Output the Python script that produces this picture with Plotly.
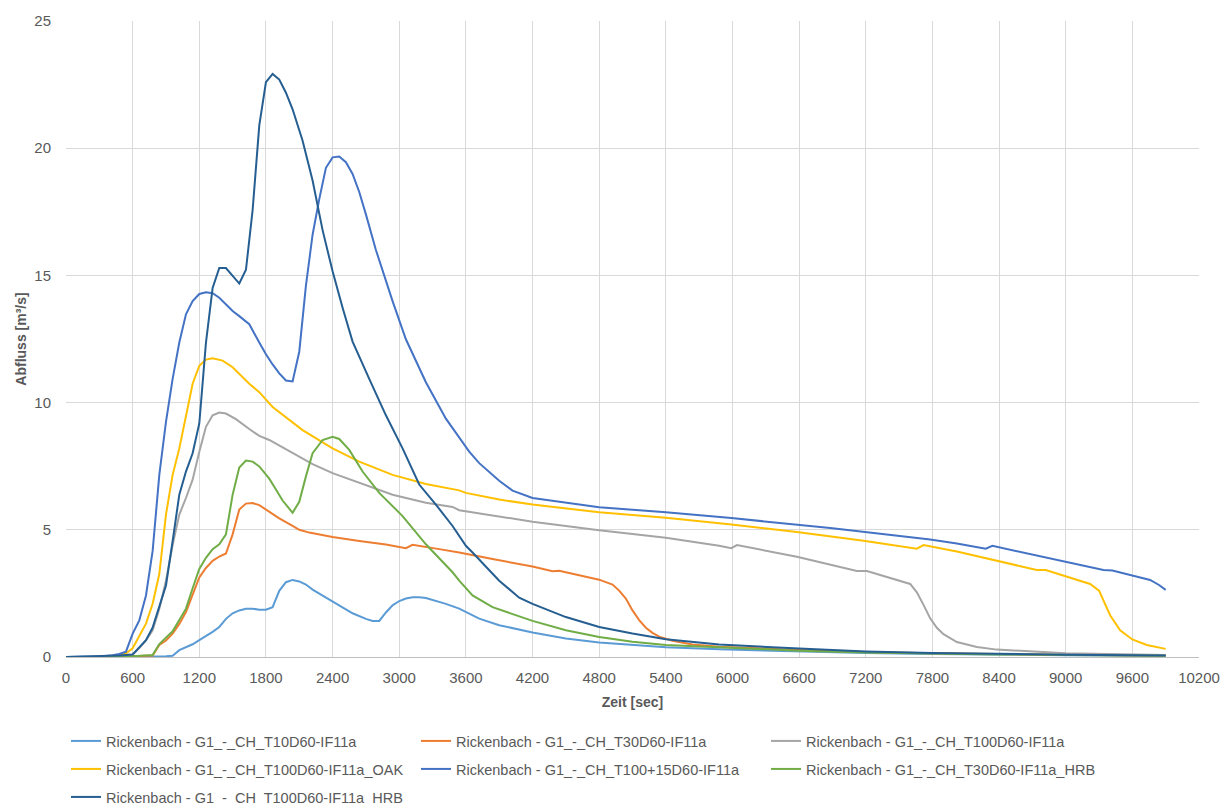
import plotly.graph_objects as go

# Abflussganglinien Rickenbach, Zeit in Sekunden, Abfluss in m³/s

names = [
    "Rickenbach - G1_-_CH_T10D60-IF11a",
    "Rickenbach - G1_-_CH_T30D60-IF11a",
    "Rickenbach - G1_-_CH_T100D60-IF11a",
    "Rickenbach - G1_-_CH_T100D60-IF11a_OAK",
    "Rickenbach - G1_-_CH_T100+15D60-IF11a",
    "Rickenbach - G1_-_CH_T30D60-IF11a_HRB",
    "Rickenbach - G1  -  CH  T100D60-IF11a  HRB",
]
colors = ["#5B9BD5", "#ED7D31", "#A5A5A5", "#FFC000", "#4472C4", "#70AD47", "#255E91"]

t_t10 = [0, 300, 600, 900, 960, 1020, 1080, 1140, 1200, 1260, 1320, 1380, 1440, 1500,
         1560, 1620, 1680, 1740, 1800, 1860, 1920, 1980, 2040, 2100, 2160, 2220, 2340,
         2460, 2580, 2700, 2760, 2820, 2880, 2940, 3000, 3060, 3120, 3180, 3240, 3420,
         3540, 3720, 3900, 4200, 4500, 4800, 5100, 5400, 5880, 6600, 7200, 7800, 8400,
         9000, 9900]
q_t10 = [0, 0, 0.02, 0.03, 0.05, 0.27, 0.38, 0.5, 0.66, 0.82, 0.99, 1.18, 1.5, 1.72,
         1.83, 1.9, 1.9, 1.86, 1.86, 1.96, 2.6, 2.94, 3.03, 2.97, 2.85, 2.65, 2.35,
         2.05, 1.72, 1.5, 1.42, 1.42, 1.75, 2.03, 2.2, 2.3, 2.35, 2.35, 2.32, 2.09,
         1.9, 1.51, 1.25, 0.96, 0.73, 0.57, 0.47, 0.38, 0.3, 0.22, 0.16, 0.12, 0.09,
         0.07, 0.05]

t_t30 = [0, 300, 600, 780, 840, 900, 960, 1020, 1080, 1140, 1200, 1260, 1320, 1380,
         1440, 1500, 1560, 1620, 1680, 1740, 1800, 1920, 2040, 2100, 2190, 2400, 2640,
         2880, 3060, 3120, 3360, 3540, 3840, 4200, 4380, 4440, 4800, 4920, 4980, 5040,
         5100, 5160, 5220, 5280, 5340, 5460, 5640, 5880, 6600, 7200, 7800, 8400, 9000,
         9900]
q_t30 = [0, 0, 0.03, 0.06, 0.47, 0.65, 0.92, 1.3, 1.77, 2.45, 3.13, 3.5, 3.78, 3.95,
         4.07, 4.82, 5.8, 6.03, 6.05, 5.97, 5.8, 5.45, 5.15, 5.0, 4.89, 4.72, 4.56,
         4.42, 4.28, 4.41, 4.24, 4.11, 3.85, 3.56, 3.37, 3.39, 3.04, 2.85, 2.61, 2.3,
         1.83, 1.45, 1.15, 0.95, 0.8, 0.64, 0.49, 0.4, 0.28, 0.2, 0.15, 0.11, 0.09,
         0.06]

t_t100 = [0, 300, 600, 660, 720, 780, 840, 900, 960, 1020, 1080, 1140, 1200, 1260,
          1320, 1380, 1440, 1530, 1650, 1740, 1830, 2040, 2220, 2400, 2640, 2940, 3240,
          3480, 3540, 3630, 4200, 4800, 5400, 5880, 5990, 6040, 6580, 7120, 7210, 7600,
          7660, 7720, 7780, 7840, 7900, 8020, 8200, 8380, 9000, 9900]
q_t100 = [0, 0, 0.1, 0.35, 0.65, 1.05, 1.9, 3.0, 4.4, 5.6, 6.25, 6.97, 8.07, 9.05,
          9.5, 9.61, 9.57, 9.35, 8.96, 8.69, 8.53, 8.01, 7.58, 7.23, 6.84, 6.38, 6.06,
          5.9, 5.77, 5.71, 5.32, 4.98, 4.69, 4.37, 4.28, 4.4, 3.94, 3.38, 3.38, 2.87,
          2.54, 2.05, 1.52, 1.15, 0.9, 0.59, 0.39, 0.29, 0.15, 0.08]

t_oak = [0, 300, 480, 540, 600, 660, 720, 780, 840, 900, 960, 1020, 1080, 1140, 1200,
         1260, 1320, 1410, 1500, 1650, 1740, 1860, 2130, 2400, 2640, 2940, 3240, 3540,
         3600, 3900, 4200, 4440, 4800, 5400, 5880, 5990, 6580, 7180, 7660, 7720, 8020,
         8380, 8740, 8820, 9220, 9300, 9400, 9490, 9600, 9730, 9900]
q_oak = [0, 0, 0.07, 0.14, 0.34, 0.8, 1.31, 2.09, 3.26, 5.6, 7.16, 8.2, 9.5, 10.74,
         11.45, 11.69, 11.74, 11.65, 11.39, 10.74, 10.41, 9.83, 8.92, 8.2, 7.68, 7.16,
         6.8, 6.55, 6.45, 6.19, 5.99, 5.87, 5.69, 5.47, 5.28, 5.21, 4.91, 4.57, 4.26,
         4.4, 4.15, 3.77, 3.42, 3.42, 2.87, 2.61, 1.64, 1.05, 0.69, 0.47, 0.32]

t_t115 = [0, 300, 420, 480, 540, 600, 660, 720, 780, 840, 900, 960, 1020, 1080, 1140,
          1200, 1260, 1320, 1380, 1440, 1500, 1560, 1650, 1740, 1800, 1860, 1920, 1980,
          2040, 2100, 2160, 2220, 2280, 2340, 2400, 2460, 2520, 2580, 2640, 2700, 2790,
          2940, 3060, 3240, 3420, 3630, 3720, 3900, 4020, 4200, 4500, 4800, 5400, 5880,
          5990, 6880, 7780, 8020, 8280, 8340, 9340, 9420, 9760, 9840, 9900]
q_t115 = [0, 0.02, 0.07, 0.12, 0.21, 0.92, 1.44, 2.42, 4.17, 7.16, 9.24, 10.93, 12.36,
          13.47, 13.99, 14.27, 14.34, 14.3, 14.12, 13.85, 13.6, 13.4, 13.08, 12.36,
          11.9, 11.5, 11.15, 10.87, 10.83, 12.0, 14.6, 16.6, 18.0, 19.23, 19.64, 19.67,
          19.45, 18.99, 18.28, 17.4, 16.0, 13.99, 12.49, 10.8, 9.37, 8.07, 7.62, 6.93,
          6.54, 6.25, 6.06, 5.89, 5.69, 5.51, 5.46, 5.07, 4.62, 4.46, 4.26, 4.37, 3.42,
          3.4, 3.03, 2.83, 2.64]

t_t30hrb = [0, 300, 600, 780, 840, 900, 960, 1020, 1080, 1140, 1200, 1260, 1320, 1380,
            1440, 1500, 1560, 1620, 1680, 1740, 1830, 1890, 1950, 2040, 2100, 2160,
            2220, 2310, 2400, 2460, 2550, 2670, 2820, 3030, 3240, 3480, 3540, 3660,
            3840, 4200, 4500, 4800, 5100, 5400, 5880, 6600, 7200, 7800, 8400, 9000,
            9900]
q_t30hrb = [0, 0, 0.03, 0.08, 0.51, 0.75, 1.01, 1.45, 1.9, 2.7, 3.46, 3.9, 4.24, 4.43,
            4.82, 6.38, 7.45, 7.72, 7.68, 7.49, 7.01, 6.58, 6.15, 5.67, 6.1, 7.1, 8.01,
            8.53, 8.66, 8.57, 8.14, 7.29, 6.45, 5.54, 4.43, 3.33, 3.0, 2.42, 1.96, 1.42,
            1.05, 0.79, 0.6, 0.47, 0.38, 0.25, 0.18, 0.13, 0.1, 0.08, 0.05]

t_t100hrb = [0, 300, 480, 600, 660, 720, 780, 840, 900, 960, 1020, 1080, 1140, 1200,
             1260, 1320, 1380, 1440, 1500, 1560, 1620, 1680, 1740, 1800, 1860, 1920,
             1980, 2040, 2130, 2220, 2310, 2400, 2490, 2580, 2730, 2880, 3030, 3180,
             3330, 3480, 3600, 3660, 3900, 4080, 4200, 4500, 4800, 5100, 5400, 5880,
             6600, 7200, 7800, 8400, 9000, 9900]
q_t100hrb = [0, 0.02, 0.06, 0.1, 0.38, 0.66, 1.16, 1.96, 2.81, 4.56, 6.38, 7.29, 8.01,
             9.18, 12.36, 14.51, 15.29, 15.29, 15.0, 14.68, 15.22, 17.56, 20.9, 22.6,
             22.92, 22.7, 22.18, 21.53, 20.29, 18.73, 16.78, 15.16, 13.73, 12.4, 10.93,
             9.5, 8.2, 6.78, 5.99, 5.15, 4.37, 4.11, 3.0, 2.33, 2.09, 1.57, 1.18, 0.92,
             0.7, 0.49, 0.33, 0.22, 0.16, 0.12, 0.09, 0.06]

series = [
    (t_t10, q_t10), (t_t30, q_t30), (t_t100, q_t100), (t_oak, q_oak),
    (t_t115, q_t115), (t_t30hrb, q_t30hrb), (t_t100hrb, q_t100hrb),
]
# legend rows: three entries per row, like the spreadsheet layout
legend_of = ["legend", "legend", "legend", "legend2", "legend2", "legend2", "legend3"]

x_ticks = list(range(0, 10201, 600))
y_ticks = [0, 5, 10, 15, 20, 25]

text_color = "#595959"
grid_color = "#D9D9D9"
font_family = "Liberation Sans, Arial, sans-serif"

fig = go.Figure()
for (t, q), name, color, lg in zip(series, names, colors, legend_of):
    fig.add_trace(go.Scatter(
        x=t, y=q, mode="lines", name=name, legend=lg,
        line=dict(color=color, width=2),
        hoverinfo="x+y+name",
    ))

W, H = 1232, 805


def legend_row(y_px):
    return dict(
        orientation="h", xref="container", yref="container",
        x=66 / W, xanchor="left", y=1 - y_px / H, yanchor="middle",
        entrywidth=305, entrywidthmode="pixels", itemwidth=30,
        font=dict(family=font_family, size=14.5, color=text_color),
        bgcolor="rgba(0,0,0,0)", traceorder="normal",
    )


fig.update_layout(
    width=W, height=H,
    margin=dict(l=66, r=30, t=12, b=148),
    paper_bgcolor="white", plot_bgcolor="white",
    font=dict(family=font_family, color=text_color),
    showlegend=True,
    legend=legend_row(741),
    legend2=legend_row(769),
    legend3=legend_row(797),
    xaxis=dict(
        range=[0, 10200], tickvals=x_ticks, ticktext=[str(v) for v in x_ticks],
        showgrid=True, gridcolor=grid_color, gridwidth=1, zeroline=False,
        showline=True, linecolor="#BFBFBF", linewidth=1,
        ticks="", tickfont=dict(size=15, color=text_color), ticklabelstandoff=7,
        title=dict(text="<b>Zeit [sec]</b>", font=dict(size=14, color=text_color), standoff=12),
    ),
    yaxis=dict(
        range=[0, 25], tickvals=y_ticks,
        showgrid=True, gridcolor=grid_color, gridwidth=1, zeroline=False,
        ticks="", tickfont=dict(size=15, color=text_color), ticklabelstandoff=14,
        title=dict(text="<b>Abfluss [m³/s]</b>", font=dict(size=14, color=text_color), standoff=4),
    ),
)

fig.write_html("out.html")
